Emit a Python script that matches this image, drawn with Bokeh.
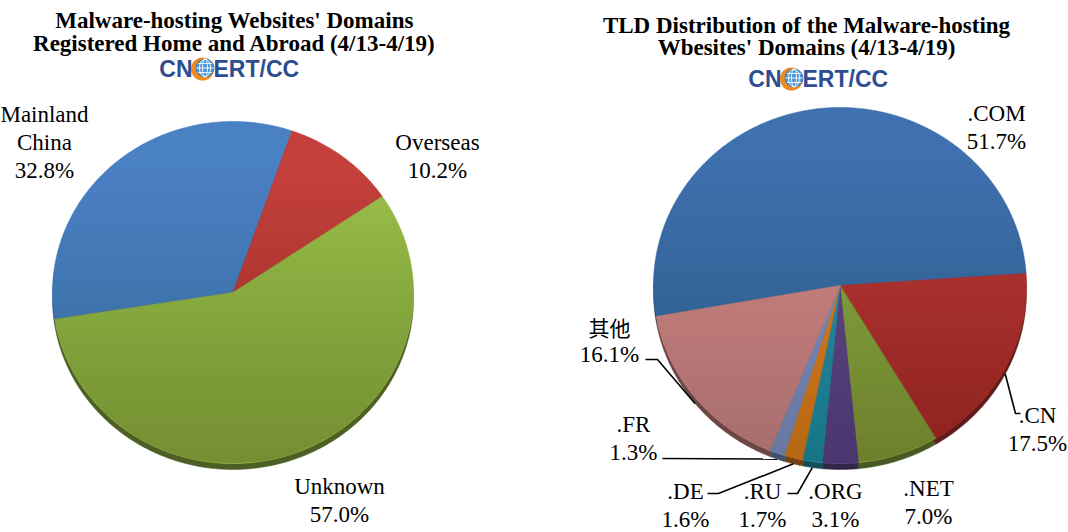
import numpy as np
from bokeh.plotting import figure
from bokeh.models import Range1d
from bokeh.core.properties import value
from bokeh.embed import file_html
from bokeh.resources import INLINE

# ---------------- data ----------------
region_names = ["Mainland\nChina", "Overseas", "Unknown"]
region_share = [32.8, 10.2, 57.0]
region_colors = ["#4a80c4", "#c4403c", "#9cbf4a"]

tld_names = [".COM", ".CN", ".NET", ".ORG", ".RU", ".DE", ".FR", "其他"]
tld_share = [51.7, 17.5, 7.0, 3.1, 1.7, 1.6, 1.3, 16.1]
tld_colors = ["#3f70af", "#bd3a37", "#8fb045", "#644e8f", "#2f9db6",
              "#e6822a", "#80a0d0", "#d68d8a"]

left_title = ["Malware-hosting Websites' Domains",
              "Registered Home and Abroad (4/13-4/19)"]
right_title = ["TLD Distribution of the Malware-hosting",
               "Wbesites' Domains (4/13-4/19)"]
logo_parts = ["CN", "ERT/CC"]

# ---------------- layout ----------------
LEFT = dict(cx=232.5, cy=292.0, rx=180.5, ry=171.0, depth=6.0, start=261.0)
RIGHT = dict(cx=839.5, cy=285.0, rx=186.5, ry=178.0, depth=6.0, start=260.0)

region_label_pos = [(44, 170), (437, 170), (339, 514)]
tld_label_pos = [(996, 141), (1037, 443), (928, 516), (835, 519),
                 (762, 519), (685, 519), (633, 452), (609, 354)]
# label-side points of leader lines (pie-side point computed from data)
tld_leaders = {".CN": [(1020, 413), (1015, 413)],
               ".RU": [(787, 493), (797, 493)],
               ".DE": [(707, 493), (718, 493)],
               ".FR": [(662, 458)],
               "其他": [(645, 359), (657, 359)]}
LINE_H = 28

SERIF = "Liberation Serif"
SANS = "Liberation Sans"
CJK = "Noto Sans CJK SC"

W, H = 1068, 532
p = figure(width=W, height=H, x_range=Range1d(0, W), y_range=Range1d(H, 0),
           output_backend="svg", toolbar_location=None, min_border=0,
           x_axis_location=None, y_axis_location=None)
p.grid.visible = False
p.outline_line_color = None
p.background_fill_color = "white"


def darker(hexc, f):
    h = hexc.lstrip("#")
    r, g, b = (int(h[i:i + 2], 16) for i in (0, 2, 4))
    return "#%02x%02x%02x" % (int(r * f), int(g * f), int(b * f))


def pt(g, ang, dy=0.0):
    t = np.radians(ang)
    return g["cx"] + g["rx"] * np.sin(t), g["cy"] + dy - g["ry"] * np.cos(t)


def slice_polys(vals, g, dy=0.0):
    tot = float(sum(vals))
    a0 = g["start"]
    xs, ys, mids = [], [], []
    for v in vals:
        a1 = a0 + 360.0 * v / tot
        n = max(4, int(abs(a1 - a0) * 2)) + 1
        ang = np.linspace(a0, a1, n)
        ax, ay = pt(g, ang, dy)
        xs.append([g["cx"]] + list(ax))
        ys.append([g["cy"] + dy] + list(ay))
        mids.append((a0 + a1) / 2.0)
        a0 = a1
    return xs, ys, mids


def ellipse_below(g, y0, n=90):
    yy = np.linspace(y0, g["cy"] + g["ry"], n)
    half = g["rx"] * np.sqrt(np.clip(1 - ((yy - g["cy"]) / g["ry"]) ** 2, 0, None))
    xs = np.concatenate([g["cx"] + half, (g["cx"] - half)[::-1]])
    ys = np.concatenate([yy, yy[::-1]])
    return list(xs), list(ys)


def draw_pie(vals, colors, g):
    # side (depth) of the 3-D pie
    sx, sy, _ = slice_polys(vals, g, dy=g["depth"])
    p.patches(sx, sy, fill_color=[darker(c, 0.5) for c in colors],
              line_color=[darker(c, 0.5) for c in colors], line_width=0.5)
    # top face
    tx, ty, mids = slice_polys(vals, g)
    p.patches(tx, ty, fill_color=colors, line_color=colors, line_width=0.6)
    # vertical shading gradient
    nb = 24
    for k in range(nb):
        y0 = g["cy"] - g["ry"] * 0.7 + (1.68 * g["ry"]) * k / nb
        ex, ey = ellipse_below(g, y0)
        p.patch(ex, ey, fill_color="black", fill_alpha=0.009, line_color=None)
    return mids


def draw_labels(names, vals, positions):
    groups = {}
    for name, v, (x, y) in zip(names, vals, positions):
        lines = name.split("\n") + ["%.1f%%" % v]
        for i, line in enumerate(lines):
            font = CJK if any(ord(ch) > 0x2e80 for ch in line) else SERIF
            d = groups.setdefault(font, ([], [], []))
            d[0].append(x)
            d[1].append(y - LINE_H * (len(lines) - 1 - i))
            d[2].append(line)
    for font, (xs, ys, txt) in groups.items():
        p.text(x=xs, y=ys, text=txt, text_font=value(font),
               text_font_size="23px" if font == SERIF else "21px",
               text_color="black", text_align="center", text_baseline="middle")


def draw_title(lines, cx, baselines):
    p.text(x=[cx] * len(lines), y=baselines, text=lines,
           text_font=value(SERIF), text_font_style="bold",
           text_font_size="23px", text_color="black",
           text_align="center", text_baseline="alphabetic")


def draw_logo(gx, gy):
    blue = "#2d4e91"
    p.text(x=[gx - 10.5], y=[gy], text=[logo_parts[0]], text_font=value(SANS),
           text_font_style="bold", text_font_size="23px", text_color=blue,
           text_align="right", text_baseline="middle")
    p.text(x=[gx + 10.5], y=[gy], text=[logo_parts[1]], text_font=value(SANS),
           text_font_style="bold", text_font_size="23px", text_color=blue,
           text_align="left", text_baseline="middle")
    p.ellipse(x=[gx - 0.5], y=[gy + 0.5], width=23, height=23,
              fill_color="#f08a1e", line_color=None)
    p.ellipse(x=[gx + 2.0], y=[gy - 0.5], width=18, height=18,
              fill_color="#4a96d6", line_color="#2f6fb4", line_width=0.8)
    for w in (11, 5):
        p.ellipse(x=[gx + 2.0], y=[gy - 0.5], width=w, height=18,
                  fill_color=None, line_color="white", line_width=0.9)
    for dy, hw in ((-4.5, 7.0), (0, 8.8), (4.5, 7.0)):
        p.segment(x0=[gx + 2.0 - hw], y0=[gy - 0.5 + dy], x1=[gx + 2.0 + hw],
                  y1=[gy - 0.5 + dy], line_color="white", line_width=0.9)


# ---------------- left pie ----------------
draw_pie(region_share, region_colors, LEFT)
draw_labels(region_names, region_share, region_label_pos)
draw_title(left_title, 234, [20, 43])
draw_logo(202.5, 68)

# ---------------- right pie ----------------
tld_mids = draw_pie(tld_share, tld_colors, RIGHT)
lx, ly = [], []
for name, mid in zip(tld_names, tld_mids):
    if name in tld_leaders:
        pts = list(tld_leaders[name])
        ex, ey = pt(RIGHT, mid, RIGHT["depth"])
        pts.append((float(ex), float(ey)))
        lx.append([q[0] for q in pts])
        ly.append([q[1] for q in pts])
p.multi_line(lx, ly, line_color="black", line_width=1.6)
draw_labels(tld_names, tld_share, tld_label_pos)
draw_title(right_title, 806, [25, 47])
draw_logo(791.5, 78)

open("out.html", "w").write(file_html(p, INLINE))
